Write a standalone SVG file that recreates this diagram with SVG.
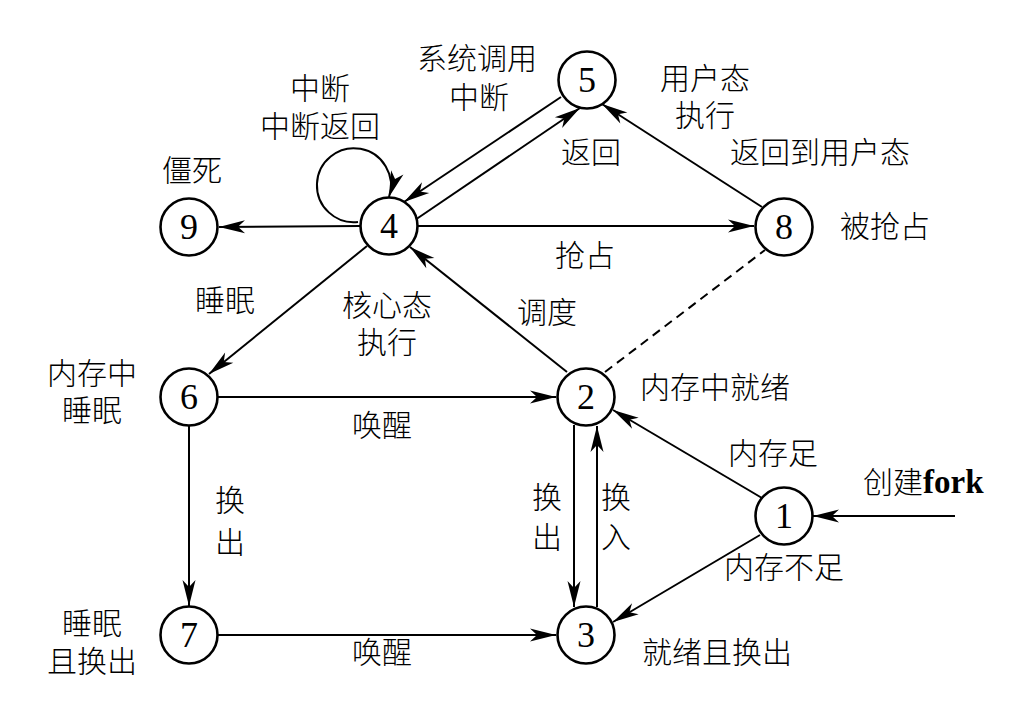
<svg xmlns="http://www.w3.org/2000/svg" width="1018" height="701" viewBox="0 0 1018 701">
<style>
.n{fill:#fff;stroke:#000;stroke-width:2.6}
.d{font-family:"Liberation Serif",serif;font-size:36px;text-anchor:middle}
.e{fill:none;stroke:#000;stroke-width:2}
.a{marker-end:url(#ar)}
.t{font-family:"Noto Sans CJK SC","Noto Sans",sans-serif;font-size:30px;font-weight:300;text-anchor:middle;fill:#000}
</style>
<defs>
<marker id="ar" markerUnits="userSpaceOnUse" markerWidth="30" markerHeight="16" viewBox="-26 -8 28 16" refX="0" refY="0" orient="auto">
<path d="M0,0 L-26,-6.5 L-19,0 L-26,6.5 z" fill="#000"/>
</marker>
</defs>
<rect width="1018" height="701" fill="#fff"/>
<g id="connectors">
<line class="e a" x1="360" y1="226" x2="219" y2="227"/>
<line class="e a" x1="418" y1="226" x2="754" y2="226"/>
<line class="e a" x1="762" y1="207" x2="602" y2="104"/>
<line class="e a" x1="561" y1="97" x2="404" y2="202"/>
<line class="e a" x1="415" y1="220" x2="580" y2="108"/>
<path class="e a" d="M358,222 A37,37 0 1 1 389,197"/>
<line class="e a" x1="367" y1="246" x2="209" y2="374"/>
<line class="e a" x1="567" y1="372" x2="410" y2="247"/>
<line class="e" x1="605" y1="372" x2="765" y2="250" stroke-dasharray="9,6"/>
<line class="e a" x1="218" y1="397" x2="556" y2="397"/>
<line class="e a" x1="189" y1="426" x2="189" y2="606"/>
<line class="e a" x1="218" y1="635" x2="556" y2="635"/>
<line class="e a" x1="574" y1="425" x2="574" y2="607"/>
<line class="e a" x1="597" y1="607" x2="597" y2="426"/>
<line class="e a" x1="762" y1="498" x2="613" y2="410"/>
<line class="e a" x1="760" y1="535" x2="613" y2="622"/>
<line class="e a" x1="955" y1="516" x2="813" y2="516"/>
</g>
<g id="node1"><circle class="n" cx="784" cy="516" r="28.5"/><text class="d" x="784" y="528">1</text></g>
<g id="node2"><circle class="n" cx="586" cy="397" r="28.5"/><text class="d" x="586" y="409">2</text></g>
<g id="node3"><circle class="n" cx="586" cy="635" r="28.5"/><text class="d" x="586" y="647">3</text></g>
<g id="node4"><circle class="n" cx="389" cy="226" r="28.5"/><text class="d" x="389" y="238">4</text></g>
<g id="node5"><circle class="n" cx="587" cy="80" r="28.5"/><text class="d" x="587" y="92">5</text></g>
<g id="node6"><circle class="n" cx="189" cy="397" r="28.5"/><text class="d" x="189" y="409">6</text></g>
<g id="node7"><circle class="n" cx="189" cy="635" r="28.5"/><text class="d" x="189" y="647">7</text></g>
<g id="node8"><circle class="n" cx="784" cy="227" r="28.5"/><text class="d" x="784" y="239">8</text></g>
<g id="node9"><circle class="n" cx="189" cy="227" r="28.5"/><text class="d" x="189" y="239">9</text></g>
<g id="labels">
<text class="t" x="320" y="99">中断</text>
<text class="t" x="320" y="137">中断返回</text>
<text class="t" x="477" y="69">系统调用</text>
<text class="t" x="479" y="108">中断</text>
<text class="t" x="705" y="89">用户态</text>
<text class="t" x="705" y="126">执行</text>
<text class="t" x="591" y="163">返回</text>
<text class="t" x="820" y="163">返回到用户态</text>
<text class="t" x="192" y="181">僵死</text>
<text class="t" x="885" y="237">被抢占</text>
<text class="t" x="585" y="266">抢占</text>
<text class="t" x="225" y="311">睡眠</text>
<text class="t" x="387" y="316">核心态</text>
<text class="t" x="387" y="353">执行</text>
<text class="t" x="547" y="323">调度</text>
<text class="t" x="92" y="384">内存中</text>
<text class="t" x="92" y="421">睡眠</text>
<text class="t" x="382" y="436">唤醒</text>
<text class="t" x="715" y="398">内存中就绪</text>
<text class="t" x="230" y="511">换</text>
<text class="t" x="230" y="553">出</text>
<text class="t" x="547" y="508">换</text>
<text class="t" x="547" y="548">出</text>
<text class="t" x="616" y="508">换</text>
<text class="t" x="616" y="548">入</text>
<text class="t" x="773" y="464">内存足</text>
<text class="t" x="863" y="493" style="text-anchor:start">创建<tspan font-family="Liberation Serif" font-size="33px" font-weight="bold">fork</tspan></text>
<text class="t" x="784" y="578">内存不足</text>
<text class="t" x="92" y="634">睡眠</text>
<text class="t" x="92" y="672">且换出</text>
<text class="t" x="382" y="663">唤醒</text>
<text class="t" x="717" y="663">就绪且换出</text>
</g>
</svg>
